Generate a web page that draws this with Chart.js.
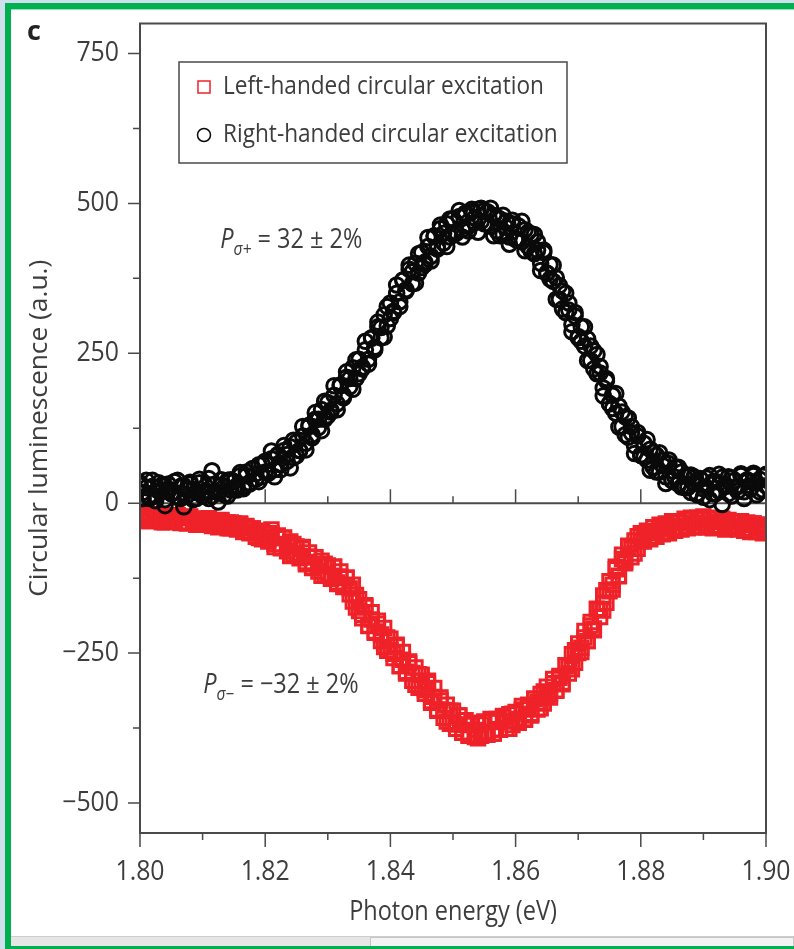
<!DOCTYPE html>
<html>
<head>
<meta charset="utf-8">
<script src="https://cdn.jsdelivr.net/npm/chart.js"></script>
<style>
html, body { margin: 0; padding: 0; width: 794px; height: 949px; overflow: hidden; background: #cfdfee; }
#page { position: absolute; left: 5px; top: 3px; width: 789px; height: 946px; background: #00b050; }
#paper { position: absolute; left: 11px; top: 9px; width: 783px; height: 927px; background: #fff; border-top: 1px solid #8fe4b4; box-sizing: border-box; }
#bar { position: absolute; left: 11px; top: 936px; width: 783px; height: 10px; background: #e6e6e6; border-top: 1px solid #cdcdcd; box-sizing: border-box; }
#thumb { position: absolute; left: 370px; top: 937px; width: 424px; height: 9px; background: #f3f3f3; border: 1px solid #c6c6c6; border-bottom: none; box-sizing: border-box; }
canvas { position: absolute; left: 0; top: 0; }
</style>
</head>
<body>
<div id="page"></div>
<div id="paper"></div>
<div id="bar"></div>
<div id="thumb"></div>
<canvas id="plChart" width="794" height="949"></canvas>
<script>
// photon energy grid (eV)
const energies = [
  1.8000, 1.8005, 1.8010, 1.8015, 1.8020, 1.8025, 1.8030, 1.8035, 1.8040, 1.8045,
  1.8050, 1.8055, 1.8060, 1.8065, 1.8070, 1.8075, 1.8080, 1.8085, 1.8090, 1.8095,
  1.8100, 1.8105, 1.8110, 1.8115, 1.8120, 1.8125, 1.8130, 1.8135, 1.8140, 1.8145,
  1.8150, 1.8155, 1.8160, 1.8165, 1.8170, 1.8175, 1.8180, 1.8185, 1.8190, 1.8195,
  1.8200, 1.8205, 1.8210, 1.8215, 1.8220, 1.8225, 1.8230, 1.8235, 1.8240, 1.8245,
  1.8250, 1.8255, 1.8260, 1.8265, 1.8270, 1.8275, 1.8280, 1.8285, 1.8290, 1.8295,
  1.8300, 1.8305, 1.8310, 1.8315, 1.8320, 1.8325, 1.8330, 1.8335, 1.8340, 1.8345,
  1.8350, 1.8355, 1.8360, 1.8365, 1.8370, 1.8375, 1.8380, 1.8385, 1.8390, 1.8395,
  1.8400, 1.8405, 1.8410, 1.8415, 1.8420, 1.8425, 1.8430, 1.8435, 1.8440, 1.8445,
  1.8450, 1.8455, 1.8460, 1.8465, 1.8470, 1.8475, 1.8480, 1.8485, 1.8490, 1.8495,
  1.8500, 1.8505, 1.8510, 1.8515, 1.8520, 1.8525, 1.8530, 1.8535, 1.8540, 1.8545,
  1.8550, 1.8555, 1.8560, 1.8565, 1.8570, 1.8575, 1.8580, 1.8585, 1.8590, 1.8595,
  1.8600, 1.8605, 1.8610, 1.8615, 1.8620, 1.8625, 1.8630, 1.8635, 1.8640, 1.8645,
  1.8650, 1.8655, 1.8660, 1.8665, 1.8670, 1.8675, 1.8680, 1.8685, 1.8690, 1.8695,
  1.8700, 1.8705, 1.8710, 1.8715, 1.8720, 1.8725, 1.8730, 1.8735, 1.8740, 1.8745,
  1.8750, 1.8755, 1.8760, 1.8765, 1.8770, 1.8775, 1.8780, 1.8785, 1.8790, 1.8795,
  1.8800, 1.8805, 1.8810, 1.8815, 1.8820, 1.8825, 1.8830, 1.8835, 1.8840, 1.8845,
  1.8850, 1.8855, 1.8860, 1.8865, 1.8870, 1.8875, 1.8880, 1.8885, 1.8890, 1.8895,
  1.8900, 1.8905, 1.8910, 1.8915, 1.8920, 1.8925, 1.8930, 1.8935, 1.8940, 1.8945,
  1.8950, 1.8955, 1.8960, 1.8965, 1.8970, 1.8975, 1.8980, 1.8985, 1.8990, 1.8995,
  1.9000
];

// left-handed excitation (red squares), a.u. - two scans
const leftHanded = [
  -16, -28, -20, -30, -18, -26, -22, -32, -20, -28, -24,
  -30, -20, -32, -24, -34, -22, -30, -26, -36, -28,
  -34, -26, -36, -30, -40, -28, -38, -32, -42, -34,
  -44, -36, -48, -38, -50, -42, -56, -46, -60, -50,
  -64, -50, -68, -54, -74, -58, -80, -64, -86, -72,
  -92, -76, -98, -82, -108, -90, -114, -96, -120, -104,
  -126, -106, -132, -114, -140, -124, -152, -136, -174, -160,
  -192, -170, -204, -182, -216, -196, -230, -208, -246, -226,
  -258, -236, -272, -248, -284, -264, -296, -274, -308, -286,
  -318, -296, -330, -308, -346, -324, -358, -336, -368, -346,
  -376, -354, -382, -362, -388, -366, -390, -368, -388, -364,
  -386, -364, -384, -360, -378, -356, -376, -352, -370, -348,
  -366, -344, -360, -336, -354, -326, -344, -318, -334, -306,
  -324, -300, -312, -288, -302, -270, -284, -252, -266, -234,
  -248, -224, -230, -198, -212, -176, -190, -154, -166, -130,
  -144, -110, -122, -86, -100, -72, -90, -62, -76, -50,
  -64, -46, -60, -40, -56, -36, -52, -34, -50, -30,
  -46, -30, -44, -26, -42, -24, -40, -24, -40, -22,
  -40, -24, -42, -26, -40, -26, -44, -28, -42, -30,
  -44, -30, -46, -32, -48, -34, -48, -36, -50, -38
];
const leftHandedScan2 = [
  -19, -25, -16, -29, -21, -28, -19, -25, -32, -22, -28,
  -29, -21, -33, -25, -32, -23, -29, -36, -26, -32,
  -34, -25, -38, -31, -37, -29, -35, -42, -32, -39,
  -41, -34, -47, -41, -49, -42, -49, -58, -48, -56,
  -61, -44, -73, -58, -75, -57, -71, -88, -68, -84,
  -88, -73, -102, -89, -107, -90, -104, -121, -101, -118,
  -121, -106, -135, -122, -139, -125, -142, -164, -153, -180,
  -186, -173, -205, -194, -214, -201, -219, -240, -224, -245,
  -251, -239, -271, -261, -281, -267, -283, -303, -285, -305,
  -312, -300, -333, -323, -344, -329, -345, -364, -346, -365,
  -369, -354, -383, -370, -387, -367, -378, -392, -369, -383,
  -381, -360, -384, -365, -377, -355, -364, -376, -351, -363,
  -360, -338, -361, -340, -351, -326, -332, -342, -314, -323,
  -318, -293, -313, -291, -299, -270, -272, -277, -245, -250,
  -241, -213, -230, -204, -209, -177, -177, -179, -145, -147,
  -136, -106, -121, -93, -97, -71, -76, -84, -55, -63,
  -59, -47, -57, -47, -50, -40, -44, -49, -37, -42,
  -42, -32, -42, -33, -38, -28, -33, -39, -28, -34,
  -35, -26, -39, -31, -37, -29, -34, -42, -31, -38,
  -39, -31, -43, -36, -42, -34, -39, -47, -36, -43
];

// right-handed excitation (black circles), a.u. - two scans
const rightHanded = [
  34, 8, 26, 12, 38, 4, 20, 30, -4, 24, 16,
  36, 10, 28, -6, 22, 32, 6, 18, 40, 12,
  28, 8, 54, 20, 2, 30, 14, 38, 22, 36,
  22, 46, 28, 52, 34, 58, 40, 64, 44, 70,
  50, 74, 56, 80, 64, 88, 70, 94, 76, 102,
  88, 112, 100, 128, 114, 140, 126, 156, 140, 168,
  152, 180, 166, 196, 180, 210, 194, 226, 208, 240,
  224, 256, 240, 276, 260, 294, 276, 314, 296, 334,
  318, 350, 336, 372, 356, 390, 366, 400, 384, 418,
  398, 428, 412, 446, 428, 458, 434, 466, 444, 474,
  450, 478, 456, 484, 462, 486, 468, 490, 470, 488,
  486, 462, 480, 454, 474, 448, 470, 444, 466, 440,
  462, 436, 456, 428, 448, 416, 436, 400, 418, 384,
  398, 370, 376, 340, 354, 318, 334, 298, 312, 276,
  294, 262, 274, 238, 254, 216, 228, 192, 204, 166,
  180, 150, 162, 128, 144, 110, 128, 96, 112, 80,
  100, 72, 90, 60, 80, 52, 72, 44, 66, 38,
  60, 32, 52, 26, 46, 18, 44, 14, 40, 10,
  42, 6, 36, 16, 48, -2, 28, 44, 12, 38,
  20, 46, 8, 36, 24, 50, 14, 40, 22, 48
];
const rightHandedScan2 = [
  30, 18, 38, 8, 28, 12, 34, 22, 6, 32, 16,
  18, 38, 8, 29, 13, 35, 23, 8, 34, 18,
  21, 41, 12, 32, 17, 39, 28, 12, 39, 24,
  29, 51, 24, 46, 32, 57, 49, 36, 65, 52,
  51, 87, 44, 81, 56, 96, 81, 59, 105, 79,
  88, 128, 89, 130, 109, 151, 140, 121, 170, 146,
  155, 196, 156, 197, 176, 219, 208, 190, 239, 216,
  227, 270, 232, 275, 256, 302, 293, 277, 328, 308,
  320, 364, 328, 372, 354, 397, 386, 367, 416, 393,
  402, 443, 404, 445, 424, 464, 450, 428, 474, 448,
  452, 488, 444, 480, 454, 490, 476, 452, 492, 466,
  465, 492, 446, 477, 446, 480, 460, 432, 472, 440,
  439, 470, 421, 452, 420, 448, 422, 388, 422, 383,
  374, 397, 340, 363, 324, 350, 322, 286, 318, 278,
  270, 294, 238, 262, 224, 248, 217, 179, 208, 166,
  158, 183, 127, 152, 114, 142, 117, 83, 118, 80,
  77, 106, 55, 85, 52, 84, 63, 33, 72, 38,
  43, 60, 27, 45, 26, 47, 34, 16, 41, 24,
  26, 46, 16, 36, 20, 43, 31, 16, 42, 26,
  28, 49, 19, 39, 24, 46, 34, 19, 45, 29
];

const seriesLabels = ['Left-handed circular excitation', 'Right-handed circular excitation'];
const xTicks = [1.80, 1.82, 1.84, 1.86, 1.88, 1.90];
const yTicks = [-500, -250, 0, 250, 500, 750];
const xTitle = 'Photon energy (eV)';
const yTitle = 'Circular luminescence (a.u.)';

const FONT = "'Open Sans', 'Noto Sans', sans-serif";
const TEXT = '#3d3d3d';
const AXIS = '#4a4a4a';
const RED = '#ee2228';
const BLACK = '#0a0a0a';
const SX_TEXT = 0.87;   // the original face is a condensed one
const SX_DIGITS = 0.92;

// polarisation labels, placed in data coordinates
const notes = [
  { sub: 'σ+', rest: ' = 32 ± 2%', at: [1.8128, 438] },
  { sub: 'σ−', rest: ' = −32 ± 2%', at: [1.8101, -304] }
];

const fmtY = v => (v < 0 ? '\u2212' + Math.abs(v) : String(v));

function squeezeText(ctx, str, x, y, font, align, sx, rot) {
  ctx.save();
  ctx.font = font;
  ctx.textAlign = align;
  ctx.textBaseline = 'middle';
  ctx.translate(x, y);
  if (rot) ctx.rotate(rot);
  ctx.scale(sx, 1);
  ctx.fillText(str, 0, 0);
  const w = ctx.measureText(str).width * sx;
  ctx.restore();
  return w;
}

const axesAndNotes = {
  id: 'axesAndNotes',
  beforeDatasetsDraw(chart) {
    const { ctx, chartArea: a, scales: { x, y } } = chart;
    const y0 = y.getPixelForValue(0);
    ctx.save();
    ctx.strokeStyle = AXIS;
    ctx.lineWidth = 2;
    ctx.beginPath();
    ctx.moveTo(a.left, y0);
    ctx.lineTo(a.right, y0);
    ctx.stroke();
    // ticks pointing up from the zero line
    ctx.lineWidth = 1.5;
    ctx.beginPath();
    xTicks.forEach((v, i) => {
      const px = x.getPixelForValue(v);
      ctx.moveTo(px, y0); ctx.lineTo(px, y0 - 14);
      if (i < xTicks.length - 1) {
        const m = x.getPixelForValue((v + xTicks[i + 1]) / 2);
        ctx.moveTo(m, y0); ctx.lineTo(m, y0 - 7);
      }
    });
    ctx.stroke();
    ctx.restore();
  },
  afterDraw(chart) {
    const { ctx, chartArea: a, scales: { x, y } } = chart;
    ctx.save();
    // frame
    ctx.strokeStyle = AXIS;
    ctx.lineWidth = 2;
    ctx.strokeRect(a.left, a.top, a.right - a.left, a.bottom - a.top);
    // outer ticks
    ctx.lineWidth = 1.5;
    ctx.beginPath();
    xTicks.forEach((v, i) => {
      const px = x.getPixelForValue(v);
      ctx.moveTo(px, a.bottom); ctx.lineTo(px, a.bottom + 14);
      if (i < xTicks.length - 1) {
        const m = x.getPixelForValue((v + xTicks[i + 1]) / 2);
        ctx.moveTo(m, a.bottom); ctx.lineTo(m, a.bottom + 7);
      }
    });
    yTicks.forEach((v, i) => {
      const py = y.getPixelForValue(v);
      ctx.moveTo(a.left, py); ctx.lineTo(a.left - 12, py);
      if (i < yTicks.length - 1) {
        const m = y.getPixelForValue((v + yTicks[i + 1]) / 2);
        ctx.moveTo(a.left, m); ctx.lineTo(a.left - 7, m);
      }
    });
    ctx.stroke();

    // tick labels and axis titles
    ctx.fillStyle = TEXT;
    const tickFont = '27px ' + FONT;
    x.ticks.forEach(t => squeezeText(ctx, t.value.toFixed(2), x.getPixelForValue(t.value), a.bottom + 39, tickFont, 'center', SX_DIGITS));
    y.ticks.forEach(t => squeezeText(ctx, fmtY(t.value), a.left - 21, y.getPixelForValue(t.value), tickFont, 'right', SX_DIGITS));
    squeezeText(ctx, xTitle, (a.left + a.right) / 2, a.bottom + 79, '27px ' + FONT, 'center', SX_TEXT);
    ctx.font = '25px ' + FONT;
    const yFit = 337 / ctx.measureText(yTitle).width;
    squeezeText(ctx, yTitle, 40, (a.top + a.bottom) / 2, '25px ' + FONT, 'center', yFit, -Math.PI / 2);

    // legend box
    const lx = a.left + 39, ly = a.top + 38.5, lw = 388, lh = 101;
    ctx.lineWidth = 1.5;
    ctx.strokeRect(lx, ly, lw, lh);
    chart.data.datasets.forEach((ds, i) => {
      const cy = ly + 25 + i * 48;
      ctx.save();
      ctx.strokeStyle = ds.pointBorderColor;
      ctx.fillStyle = '#fff';
      Chart.helpers.drawPoint(ctx, {
        pointStyle: ds.pointStyle,
        radius: ds.pointStyle === 'rect' ? 8.5 : 6.5,
        rotation: 0,
        borderWidth: 3
      }, lx + 25, cy);
      ctx.restore();
      squeezeText(ctx, ds.label, lx + 44, cy, '26px ' + FONT, 'left', SX_TEXT);
    });

    // polarisation notes
    notes.forEach(n => {
      let px = x.getPixelForValue(n.at[0]);
      const py = y.getPixelForValue(n.at[1]);
      px += squeezeText(ctx, 'P', px, py, 'italic 27px ' + FONT, 'left', SX_TEXT);
      px += squeezeText(ctx, n.sub, px, py + 9, 'italic 18px ' + FONT, 'left', SX_TEXT);
      squeezeText(ctx, n.rest, px, py, '27px ' + FONT, 'left', SX_TEXT);
    });

    // panel letter
    ctx.font = 'bold 27px ' + FONT;
    ctx.fillStyle = '#222';
    ctx.textAlign = 'left';
    ctx.textBaseline = 'alphabetic';
    ctx.fillText('c', 27, 40);
    ctx.restore();
  }
};

const both = (a, b) => energies.map((e, i) => ({ x: e, y: a[i] })).concat(energies.map((e, i) => ({ x: e, y: b[i] })));

const ctx = document.getElementById('plChart').getContext('2d');
const chart = new Chart(ctx, {
  type: 'scatter',
  data: {
    datasets: [
      {
        label: seriesLabels[0],
        data: both(leftHanded, leftHandedScan2),
        pointStyle: 'rect',
        pointRadius: 9.5,
        pointBorderWidth: 3,
        pointBorderColor: RED,
        pointBackgroundColor: 'rgba(255,255,255,0)',
        clip: 0,
        order: 1
      },
      {
        label: seriesLabels[1],
        data: both(rightHanded, rightHandedScan2),
        pointStyle: 'circle',
        pointRadius: 7.3,
        pointBorderWidth: 3,
        pointBorderColor: BLACK,
        pointBackgroundColor: 'rgba(255,255,255,0)',
        clip: 0,
        order: 0
      }
    ]
  },
  options: {
    responsive: false,
    animation: false,
    events: [],
    layout: { padding: { left: 24, top: 23.5, right: 28, bottom: 21 } },
    plugins: { legend: { display: false }, tooltip: { enabled: false } },
    scales: {
      x: {
        type: 'linear',
        min: 1.80,
        max: 1.90,
        afterBuildTicks: s => { s.ticks = xTicks.map(v => ({ value: v })); },
        afterFit: s => { s.height = 95; },
        ticks: { display: false },
        grid: { display: false },
        border: { display: false }
      },
      y: {
        min: -550,
        max: 800,
        afterBuildTicks: s => { s.ticks = yTicks.map(v => ({ value: v })); },
        afterFit: s => { s.width = 116; },
        ticks: { display: false },
        grid: { display: false },
        border: { display: false }
      }
    }
  },
  plugins: [axesAndNotes]
});
</script>
</body>
</html>
